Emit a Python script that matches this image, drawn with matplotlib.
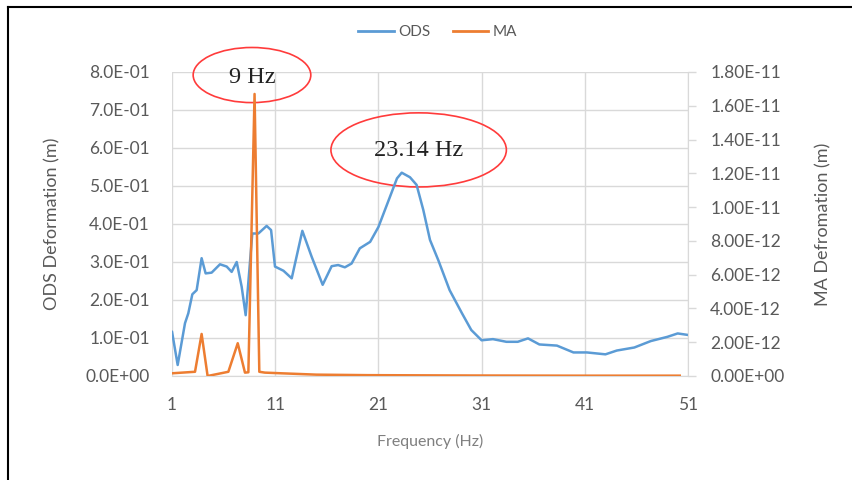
import matplotlib
matplotlib.use("Agg")
import matplotlib.pyplot as plt
from matplotlib.patches import Ellipse
from matplotlib.ticker import FuncFormatter, MultipleLocator
from matplotlib.lines import Line2D

# ---- data ----
ods_freq = [1.0, 1.55, 2.26, 2.58, 2.97, 3.39, 3.87, 4.26, 4.84, 5.65, 6.3, 6.78, 7.27,
            7.75, 8.14, 8.78, 9.37, 10.17, 10.6, 10.98, 11.8, 12.6, 13.63, 14.53, 15.6,
            16.47, 17.1, 17.75, 18.4, 19.2, 20.2, 21.0, 22.0, 22.8, 23.26, 24.06, 24.7,
            25.35, 26.0, 26.8, 27.9, 29.1, 30.0, 31.0, 32.1, 33.4, 34.5, 35.5, 36.6, 38.3,
            39.9, 41.2, 43.0, 44.1, 45.8, 47.4, 49.0, 50.0, 51.0]
ods_vals = [0.117, 0.029, 0.139, 0.165, 0.215, 0.226, 0.31, 0.27, 0.272, 0.294, 0.288,
            0.274, 0.30, 0.235, 0.16, 0.375, 0.375, 0.395, 0.384, 0.288, 0.277, 0.257,
            0.382, 0.314, 0.24, 0.289, 0.292, 0.286, 0.296, 0.336, 0.353, 0.392, 0.463,
            0.52, 0.535, 0.523, 0.503, 0.437, 0.358, 0.305, 0.226, 0.165, 0.121, 0.094,
            0.097, 0.09, 0.09, 0.099, 0.083, 0.08, 0.062, 0.062, 0.057, 0.067, 0.075,
            0.092, 0.103, 0.112, 0.108]

ma_freq = [1.0, 3.23, 3.87, 4.45, 6.46, 7.37, 8.07, 8.4, 9.0, 9.46, 10.0, 11.6, 15.0,
           20.0, 30.0, 40.0, 50.2]
ma_vals = [0.16e-12, 0.25e-12, 2.49e-12, 0.0, 0.25e-12, 1.94e-12, 0.2e-12, 0.22e-12,
           16.7e-12, 0.25e-12, 0.2e-12, 0.16e-12, 0.08e-12, 0.05e-12, 0.03e-12,
           0.02e-12, 0.02e-12]

x_ticks = [1, 11, 21, 31, 41, 51]
series_names = ["ODS", "MA"]
annot_labels = ["9 Hz", "23.14 Hz"]

BLUE = "#5B9BD5"
ORANGE = "#ED7D31"
GRAY = "#595959"
GRID = "#D9D9D9"

plt.rcParams['font.family'] = ['Lato', 'DejaVu Sans']

fig = plt.figure(figsize=(8.53, 4.8), dpi=100)
ax = fig.add_axes([172/853, 1-376/480, (688-172)/853, (376-72)/480])
ax2 = ax.twinx()

ax.plot(ods_freq, ods_vals, color=BLUE, lw=1.8, solid_capstyle='round', solid_joinstyle='round')
ax2.plot(ma_freq, ma_vals, color=ORANGE, lw=1.8, solid_joinstyle='round')

ax.set_xlim(1, 51)
ax.set_ylim(0, 0.8)
ax2.set_ylim(0, 1.8e-11)
ax.set_xticks(x_ticks)
ax.yaxis.set_major_locator(MultipleLocator(0.1))
ax2.yaxis.set_major_locator(MultipleLocator(0.2e-11))
ax.yaxis.set_major_formatter(FuncFormatter(lambda v, p: f"{v:.1E}"))
ax2.yaxis.set_major_formatter(FuncFormatter(lambda v, p: f"{v:.2E}"))

ax.grid(True, color=GRID, lw=1.0)
ax.set_axisbelow(True)

for a in (ax, ax2):
    for s in a.spines.values():
        s.set_visible(False)
ax.spines['bottom'].set_visible(True)
ax.spines['bottom'].set_color(GRID)
ax2.spines['right'].set_visible(True)
ax2.spines['right'].set_color(GRID)

ax.tick_params(axis='y', length=0, pad=16, labelsize=12.5, labelcolor=GRAY)
ax.tick_params(axis='x', length=0, pad=15, labelsize=12.5, labelcolor=GRAY)
ax2.tick_params(axis='y', length=6, width=1, color=GRID, pad=10, labelsize=12.5, labelcolor=GRAY)

ax.set_ylabel("ODS Deformation (m)", fontsize=13, color=GRAY)
ax.yaxis.set_label_coords(-0.217, 0.5)
ax2.set_ylabel("MA Defromation (m)", fontsize=13, color=GRAY)
ax2.yaxis.set_label_coords(1.246, 0.5)
ax.set_xlabel("Frequency (Hz)", fontsize=11.5, color="#7F7F7F")
ax.xaxis.set_label_coords(0.5, -0.19)

# annotations
e1 = Ellipse((8.75, 0.792), 11.4, 0.145, fill=False, edgecolor="#FF3B3B", lw=1.2, clip_on=False)
e2 = Ellipse((24.9, 0.595), 17.0, 0.195, fill=False, edgecolor="#FF3B3B", lw=1.2, clip_on=False)
ax.add_patch(e1)
ax.add_patch(e2)
ax.text(8.75, 0.785, annot_labels[0], family=['Liberation Serif', 'DejaVu Serif'], fontsize=17.5,
        ha='center', va='center', color='#222222', clip_on=False)
ax.text(24.9, 0.593, annot_labels[1], family=['Liberation Serif', 'DejaVu Serif'], fontsize=17.5,
        ha='center', va='center', color='#222222', clip_on=False)

handles = [Line2D([], [], color=BLUE, lw=2), Line2D([], [], color=ORANGE, lw=2)]
fig.legend(handles, series_names, loc='center', bbox_to_anchor=(438/853, 1-32/480), ncol=2,
           frameon=False, fontsize=11, labelcolor=GRAY, handlelength=2.3,
           handletextpad=0.3, columnspacing=1.5)

# outer frame (top and left)
fig.add_artist(Line2D([8/853, 1], [1-7/480, 1-7/480], color='black', lw=1.5, transform=fig.transFigure))
fig.add_artist(Line2D([8/853, 8/853], [0, 1-7/480], color='black', lw=1.5, transform=fig.transFigure))

fig.savefig("out.png", dpi=100)
